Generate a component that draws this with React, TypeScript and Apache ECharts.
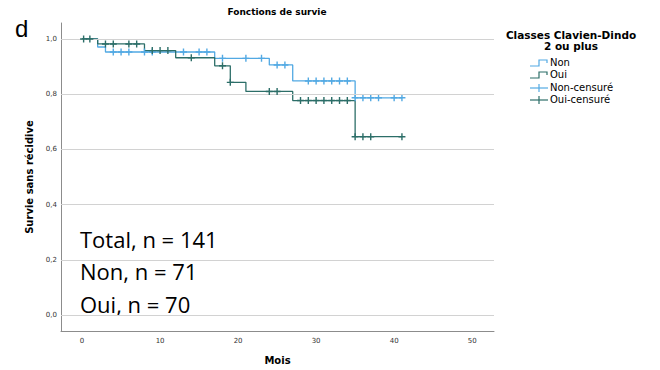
import React, { useEffect, useRef } from "react";
import * as echarts from "echarts";

const xTicks = [0, 10, 20, 30, 40, 50];
const yTicks = [0, 0.2, 0.4, 0.6, 0.8, 1.0];

const groupNames = ["Non", "Oui"];
const censorNames = ["Non-censuré", "Oui-censuré"];

const nonTimes = [0, 2, 3, 17, 24, 27, 35, 41];
const nonSurv = [1.0, 0.971, 0.953, 0.93, 0.906, 0.848, 0.787, 0.787];
const nonCensored = [4, 5, 6, 8, 9, 13, 15, 16, 18, 21, 23, 25, 26, 29, 30, 31, 32, 33, 34, 35, 36, 37, 38, 40, 41];

const ouiTimes = [0, 2, 8, 12, 17, 19, 21, 27, 35, 41];
const ouiSurv = [1.0, 0.982, 0.958, 0.932, 0.903, 0.843, 0.81, 0.777, 0.646, 0.646];
const ouiCensored = [0.2, 1, 3, 4, 6, 7, 9, 10, 11, 14, 18, 19, 24, 25, 28, 29, 30, 31, 32, 33, 34, 35, 36, 37, 41];

const annotations = ["Total, n = 141", "Non, n = 71", "Oui, n = 70"];

const NON = "#52a9e3";
const OUI = "#2c6e68";
const PLUS = "path://M4,0H6V10H4Z M0,4H10V6H0Z";

function survAt(times: number[], surv: number[], t: number) {
  let s = surv[0];
  for (let i = 0; i < times.length; i++) if (times[i] <= t) s = surv[i];
  return s;
}

export default function App() {
  const ref = useRef<HTMLDivElement>(null);
  useEffect(() => {
    const chart = echarts.init(ref.current!, null, { renderer: "svg" });
    const legendX = 530;
    const legendYs = [63, 75, 88, 100];
    const legendGraphics: any[] = [];
    [NON, OUI].forEach((c, i) => {
      const y = legendYs[i];
      legendGraphics.push({
        type: "polyline",
        shape: { points: [[legendX, y + 3], [legendX + 9, y + 3], [legendX + 9, y - 3], [legendX + 17, y - 3], [legendX + 17, y]] },
        style: { stroke: c, lineWidth: 1.2, fill: null },
      });
      legendGraphics.push({
        type: "text", left: legendX + 20, top: y - 6,
        style: { text: groupNames[i], fontSize: 10, fontFamily: "DejaVu Sans", fill: "#000" },
      });
    });
    [NON, OUI].forEach((c, i) => {
      const y = legendYs[i + 2];
      legendGraphics.push({ type: "line", shape: { x1: legendX, y1: y, x2: legendX + 18, y2: y }, style: { stroke: c, lineWidth: 1.2 } });
      legendGraphics.push({ type: "line", shape: { x1: legendX + 9, y1: y - 4, x2: legendX + 9, y2: y + 4 }, style: { stroke: c, lineWidth: 1.2 } });
      legendGraphics.push({
        type: "text", left: legendX + 20, top: y - 6,
        style: { text: censorNames[i], fontSize: 10, fontFamily: "DejaVu Sans", fill: "#000" },
      });
    });

    chart.setOption({
      animation: false,
      grid: { left: 61, right: 166, top: 23, bottom: 39 },
      xAxis: {
        type: "value", min: -2.7, max: 52.8,
        axisLine: { show: true, onZero: false, lineStyle: { color: "#8c8c8c", width: 1 } },
        axisTick: { show: false },
        splitLine: { show: false },
        axisLabel: { customValues: xTicks, fontSize: 7, color: "#333", margin: 6, fontFamily: "DejaVu Sans" },
        name: "Mois", nameLocation: "middle", nameGap: 24,
        nameTextStyle: { fontWeight: "bold", fontSize: 10, color: "#000", fontFamily: "DejaVu Sans" },
      },
      yAxis: {
        type: "value", min: -0.058, max: 1.058,
        axisLine: { show: true, onZero: false, lineStyle: { color: "#8c8c8c", width: 1 } },
        axisTick: { show: false },
        splitLine: { show: false },
        axisLabel: {
          customValues: yTicks, fontSize: 7, color: "#333", margin: 4, fontFamily: "DejaVu Sans",
          formatter: (v: number) => v.toFixed(1).replace(".", ","),
        },
        name: "Survie sans récidive", nameLocation: "middle", nameGap: 25,
        nameTextStyle: { fontWeight: "bold", fontSize: 10, color: "#000", fontFamily: "DejaVu Sans" },
      },
      title: {
        text: "Fonctions de survie", left: 277, top: 7, textAlign: "center", padding: 0,
        textStyle: { fontSize: 9, fontWeight: "bold", color: "#000", fontFamily: "DejaVu Sans" },
      },
      graphic: [
        { type: "text", left: 15, top: 16, style: { text: "d", fontSize: 24, fontFamily: "Liberation Sans", fill: "#000" } },
        { type: "text", x: 571, y: 29, style: { text: "Classes Clavien-Dindo", fontSize: 10.5, fontWeight: "bold", fontFamily: "DejaVu Sans", fill: "#000", align: "center", verticalAlign: "top" } },
        { type: "text", x: 571, y: 40, style: { text: "2 ou plus", fontSize: 10.5, fontWeight: "bold", fontFamily: "DejaVu Sans", fill: "#000", align: "center", verticalAlign: "top" } },
        ...annotations.map((t, i) => ({
          type: "text", left: 80, top: [228, 260, 293][i],
          style: { text: t, fontSize: 22, fontFamily: "Open Sans", fill: "#000" },
        })),
        ...legendGraphics,
      ],
      series: [
        {
          type: "line", data: [], z: 1, silent: true,
          markLine: {
            silent: true, symbol: "none", label: { show: false },
            lineStyle: { color: "#d2d2d2", width: 1, type: "solid" },
            data: yTicks.map((v) => ({ yAxis: v })),
          },
        },
        {
          name: groupNames[0], type: "line", step: "end", symbol: "none", z: 2,
          data: nonTimes.map((t, i) => [t, nonSurv[i]]),
          lineStyle: { color: NON, width: 1.3 },
        },
        {
          name: groupNames[1], type: "line", step: "end", symbol: "none", z: 3,
          data: ouiTimes.map((t, i) => [t, ouiSurv[i]]),
          lineStyle: { color: OUI, width: 1.3 },
        },
        {
          name: censorNames[0], type: "scatter", symbol: PLUS, symbolSize: 7, z: 4,
          itemStyle: { color: NON, opacity: 1 },
          data: nonCensored.map((t) => [t, survAt(nonTimes, nonSurv, t)]),
        },
        {
          name: censorNames[1], type: "scatter", symbol: PLUS, symbolSize: 7, z: 5,
          itemStyle: { color: OUI, opacity: 1 },
          data: ouiCensored.map((t) => [t, survAt(ouiTimes, ouiSurv, t)]),
        },
      ],
    });
    return () => chart.dispose();
  }, []);
  return <div ref={ref} style={{ position: "fixed", left: 0, top: 0, width: 660, height: 370, background: "#fff" }} />;
}
